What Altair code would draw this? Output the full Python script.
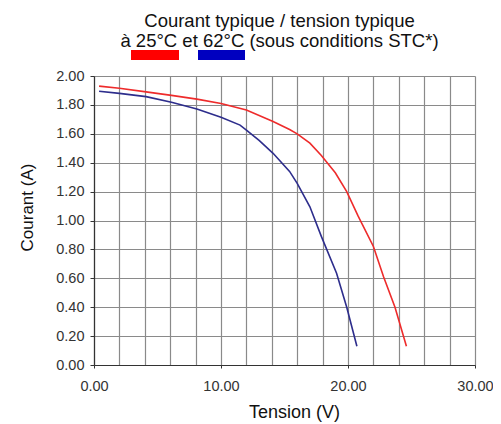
import altair as alt
import pandas as pd

# 25°C curve
v_25 = [0.4, 2.0, 4.1, 6.1, 8.1, 10.0, 12.0, 14.1, 15.4, 16.0, 17.0, 17.9, 19.0, 19.9, 20.8, 22.0, 22.8, 23.7, 24.6]
i_25 = [1.93, 1.915, 1.89, 1.866, 1.84, 1.81, 1.765, 1.685, 1.63, 1.60, 1.535, 1.45, 1.33, 1.20, 1.03, 0.82, 0.61, 0.40, 0.13]
# 62°C curve
v_62 = [0.4, 2.0, 4.1, 6.1, 8.1, 10.0, 11.5, 12.0, 13.0, 14.1, 15.4, 16.0, 17.0, 17.9, 19.1, 19.9, 20.7]
i_62 = [1.895, 1.88, 1.857, 1.818, 1.772, 1.714, 1.66, 1.626, 1.555, 1.465, 1.34, 1.257, 1.095, 0.89, 0.635, 0.40, 0.13]

series_names = ["25°C", "62°C"]
series_colors = ["#ee2b2b", "#2d2d8c"]
legend_colors = ["#ff0000", "#0000c0"]

x_grid_values = list(range(0, 31, 2))
x_label_values = [0, 10, 20, 30]
y_values = [round(0.2 * k, 1) for k in range(11)]

df = pd.concat([
    pd.DataFrame({"V": v_25, "I": i_25, "s": series_names[0], "o": range(len(v_25))}),
    pd.DataFrame({"V": v_62, "I": i_62, "s": series_names[1], "o": range(len(v_62))}),
])

FONT = "Liberation Sans"
xscale = alt.Scale(domain=[0, 30], nice=False, zero=False)
yscale = alt.Scale(domain=[0, 2], nice=False)

y_axis = alt.Axis(values=y_values, format=".2f", grid=True,
                  gridColor="#8a8a8a", gridWidth=1.2, gridOpacity=1,
                  title="Courant (A)", tickSize=4, labelPadding=6,
                  titleX=-67, titleY=131, titleBaseline="middle", titleFontSize=17)

grid = alt.Chart(df).mark_line(opacity=0).encode(
    x=alt.X("V:Q", scale=xscale, axis=alt.Axis(orient="top", values=x_grid_values, labels=False,
                                               ticks=False, domain=False, grid=True, title=None,
                                               gridColor="#8a8a8a", gridWidth=1.2, gridOpacity=1)),
    y=alt.Y("I:Q", scale=yscale, axis=y_axis),
)

lines = alt.Chart(df).mark_line(strokeWidth=1.6).encode(
    x=alt.X("V:Q", scale=xscale, axis=alt.Axis(values=x_label_values, format=".2f", grid=False,
                                               title="Tension (V)", tickSize=3, labelPadding=11,
                                               labelFlush=False, titleX=200, titleY=47,
                                               titleBaseline="middle", titleFontSize=18)),
    y=alt.Y("I:Q", scale=yscale, axis=y_axis),
    color=alt.Color("s:N", scale=alt.Scale(domain=series_names, range=series_colors), legend=None),
    order="o:Q",
)

leg_df = pd.DataFrame({"s": series_names})
leg1 = alt.Chart(leg_df.iloc[[0]]).mark_rect(color=legend_colors[0]).encode(
    x=alt.value(37), x2=alt.value(85), y=alt.value(-26), y2=alt.value(-16))
leg2 = alt.Chart(leg_df.iloc[[1]]).mark_rect(color=legend_colors[1]).encode(
    x=alt.value(104), x2=alt.value(151), y=alt.value(-26), y2=alt.value(-16))

chart = alt.layer(grid, lines, leg1, leg2).resolve_axis(x="independent").properties(
    width=381, height=289,
    autosize=alt.AutoSizeParams(type="none"),
    padding={"left": 86, "top": 68, "right": 18, "bottom": 58},
    title=alt.TitleParams(
        text=["Courant typique / tension typique", "à 25°C et 62°C (sous conditions STC*)"],
        fontSize=18.5, fontWeight="normal", font=FONT, color="#111", anchor="middle",
        offset=0, lineHeight=20, dx=-5,
    ),
).configure_axis(
    labelFont=FONT, titleFont=FONT, labelFontSize=14.5, labelColor="#333",
    titleColor="#111", titleFontWeight="normal", domainColor="#333", tickColor="#333",
    domainWidth=1.2,
).configure_view(stroke=None)

chart.save("out.html", embed_options={"renderer": "svg", "actions": False})
